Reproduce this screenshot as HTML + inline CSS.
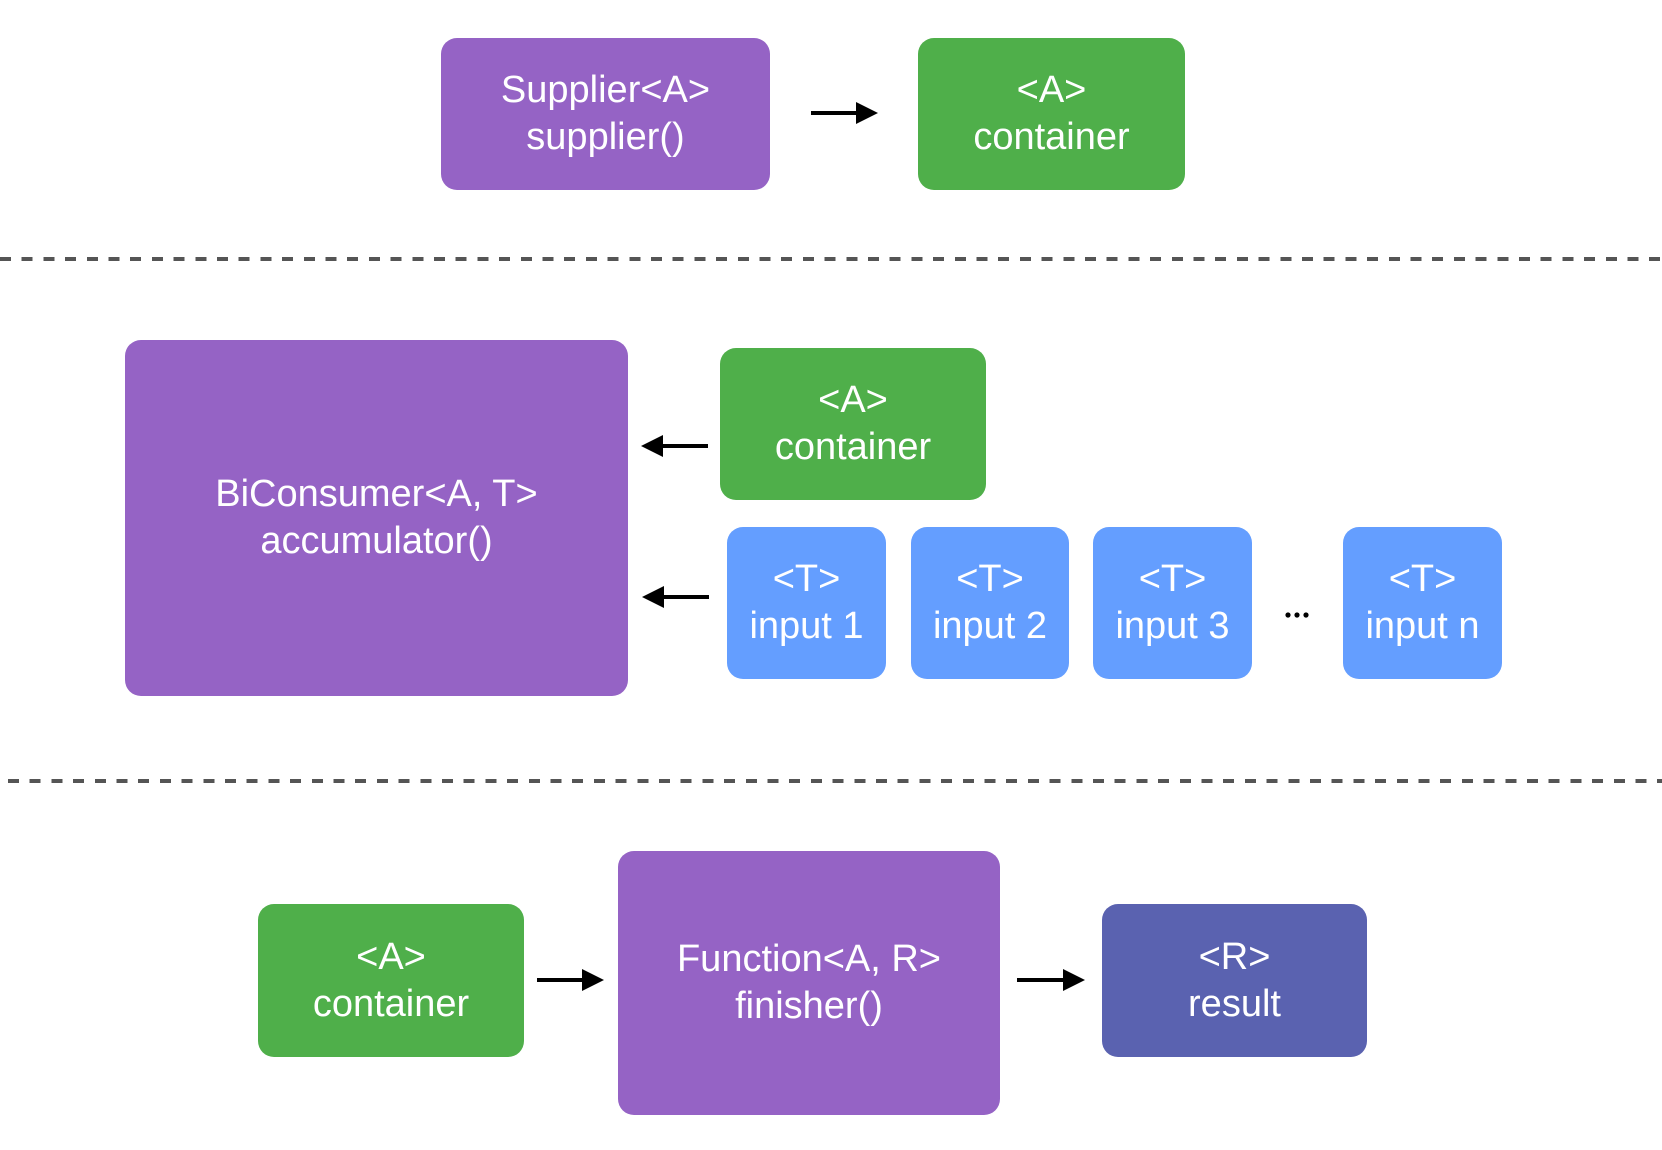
<!DOCTYPE html>
<html><head><meta charset="utf-8"><style>
body{margin:0;width:1662px;height:1150px;background:#fff;position:relative;overflow:hidden;font-family:"Liberation Sans",sans-serif}
.b{position:absolute;border-radius:16px;color:#fff;display:flex;align-items:center;justify-content:center;text-align:center;font-size:38px;line-height:47px;z-index:2}
.p{background:#9563C5}.g{background:#4FAF4A}.bl{background:#649EFF}.d{background:#5A62B0}
.dash{position:absolute;left:0;width:1662px;height:4px;background:repeating-linear-gradient(90deg,#555 0 11px,transparent 11px 21.7px)}
svg{position:absolute;left:0;top:0;z-index:1}
</style></head><body>
<svg width="1662" height="1150">
<g fill="#000"><circle cx="1288" cy="615" r="2.6"/><circle cx="1297" cy="615" r="2.6"/><circle cx="1306" cy="615" r="2.6"/></g>
<g stroke="#000" stroke-width="4"><line x1="811" y1="113" x2="860" y2="113"/><line x1="660" y1="446" x2="708" y2="446"/><line x1="660" y1="597" x2="709" y2="597"/><line x1="537" y1="980" x2="585" y2="980"/><line x1="1017" y1="980" x2="1066" y2="980"/></g>
<g fill="#000"><polygon points="878,113 856,102 856,124"/><polygon points="641,446 663,435 663,457"/><polygon points="642,597 664,586 664,608"/><polygon points="604,980 582,969 582,991"/><polygon points="1085,980 1063,969 1063,991"/></g>
</svg>
<div class="dash" style="top:257px"></div>
<div class="dash" style="top:779px;left:8px"></div>
<div class="b p" style="left:441px;top:38px;width:329px;height:152px">Supplier&lt;A&gt;<br>supplier()</div>
<div class="b g" style="left:918px;top:38px;width:267px;height:152px">&lt;A&gt;<br>container</div>
<div class="b p" style="left:125px;top:340px;width:503px;height:356px">BiConsumer&lt;A, T&gt;<br>accumulator()</div>
<div class="b g" style="left:720px;top:348px;width:266px;height:152px">&lt;A&gt;<br>container</div>
<div class="b bl" style="left:727px;top:527px;width:159px;height:152px">&lt;T&gt;<br>input 1</div>
<div class="b bl" style="left:911px;top:527px;width:158px;height:152px">&lt;T&gt;<br>input 2</div>
<div class="b bl" style="left:1093px;top:527px;width:159px;height:152px">&lt;T&gt;<br>input 3</div>
<div class="b bl" style="left:1343px;top:527px;width:159px;height:152px">&lt;T&gt;<br>input n</div>
<div class="b g" style="left:258px;top:904px;width:266px;height:153px">&lt;A&gt;<br>container</div>
<div class="b p" style="left:618px;top:851px;width:382px;height:264px">Function&lt;A, R&gt;<br>finisher()</div>
<div class="b d" style="left:1102px;top:904px;width:265px;height:153px">&lt;R&gt;<br>result</div>
</body></html>
